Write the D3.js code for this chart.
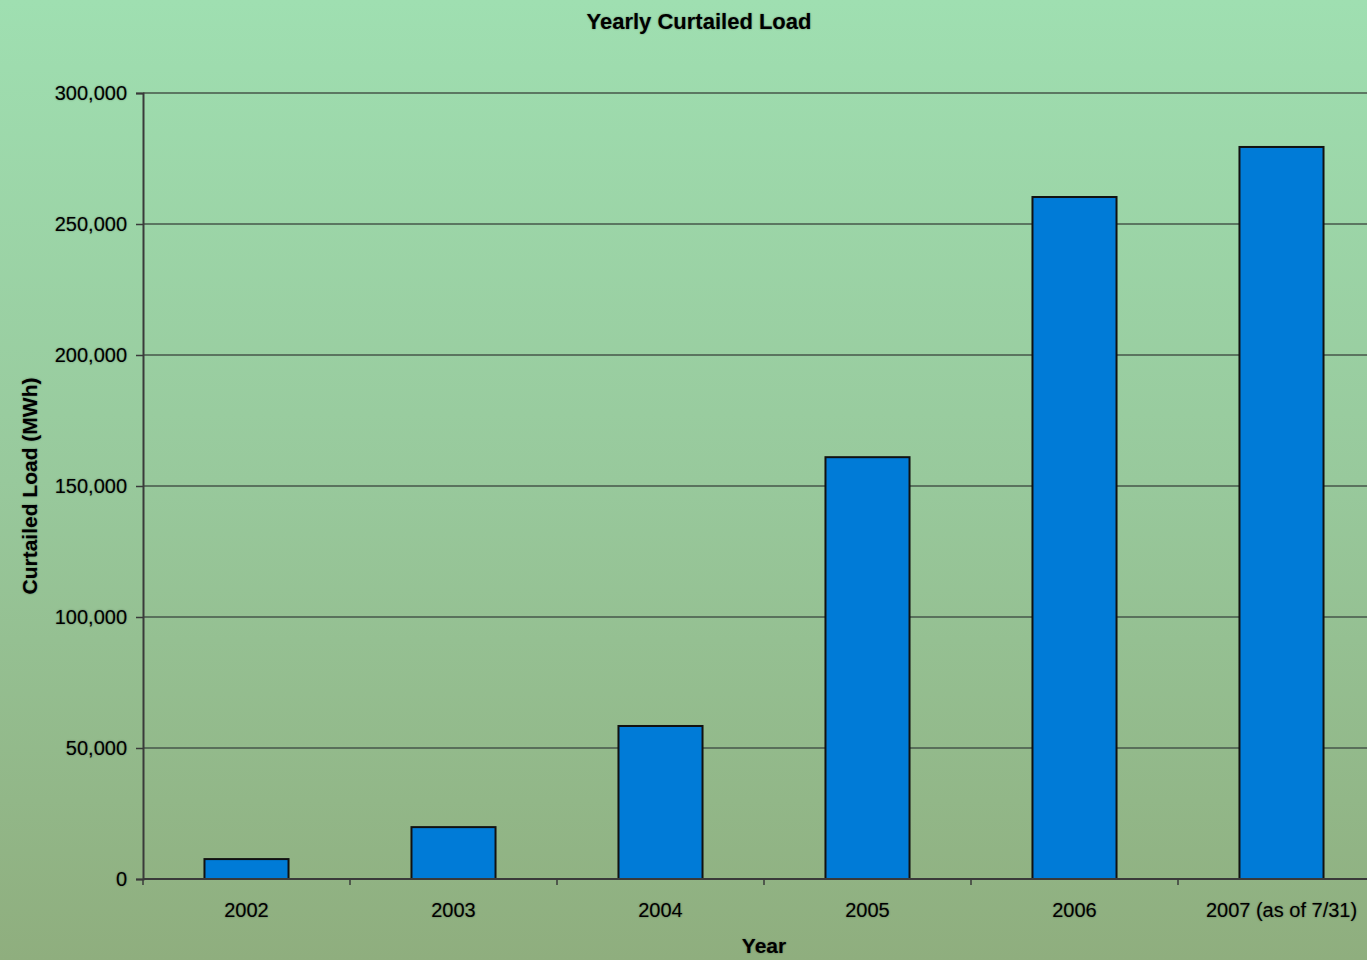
<!DOCTYPE html>
<html>
<head>
<meta charset="utf-8">
<script src="https://cdn.jsdelivr.net/npm/d3@7"></script>
<style>
  html, body { margin: 0; padding: 0; overflow: hidden; }
  text { font-family: "Liberation Sans", Arial, sans-serif; fill: #000; text-shadow: 0 0 2px rgba(0,0,0,0.4); }
</style>
</head>
<body>
<div id="chart"></div>
<script>
const years = ['2002', '2003', '2004', '2005', '2006', '2007 (as of 7/31)'];
const curtailedLoad = [7600, 19800, 58400, 161000, 260300, 279400];
const yTicks = [0, 50000, 100000, 150000, 200000, 250000, 300000];

const width = 1367, height = 960;
const margin = { top: 93, right: -18, bottom: 81, left: 143 };

const svg = d3.select('#chart')
  .append('svg')
  .attr('width', width)
  .attr('height', height);

const defs = svg.append('defs');
const bg = defs.append('linearGradient')
  .attr('id', 'bg')
  .attr('x1', 0).attr('y1', 0).attr('x2', 0).attr('y2', 1);
bg.append('stop').attr('offset', '0%').attr('stop-color', '#9fdfb1');
bg.append('stop').attr('offset', '50%').attr('stop-color', '#98c99c');
bg.append('stop').attr('offset', '100%').attr('stop-color', '#8fae7e');

svg.append('rect')
  .attr('width', width)
  .attr('height', height)
  .attr('fill', 'url(#bg)');

const x = d3.scaleBand()
  .domain(years)
  .range([margin.left, width - margin.right])
  .paddingInner(0.594)
  .paddingOuter(0.297);

const y = d3.scaleLinear()
  .domain([0, 300000])
  .range([height - margin.bottom, margin.top]);

// gridlines
svg.append('g')
  .selectAll('line')
  .data(yTicks.slice(1))
  .enter()
  .append('line')
  .attr('x1', margin.left)
  .attr('x2', width - margin.right)
  .attr('y1', d => y(d))
  .attr('y2', d => y(d))
  .attr('stroke', '#46564a')
  .attr('stroke-width', 1.5);

// bars
svg.append('g')
  .selectAll('rect')
  .data(curtailedLoad)
  .enter()
  .append('rect')
  .attr('x', (d, i) => x(years[i]))
  .attr('y', d => y(d))
  .attr('width', x.bandwidth())
  .attr('height', d => y(0) - y(d))
  .attr('fill', '#007bd7')
  .attr('stroke', '#111')
  .attr('stroke-width', 2);

// y axis
const yAxis = svg.append('g')
  .attr('transform', `translate(${margin.left},0)`)
  .call(d3.axisLeft(y).tickValues(yTicks).tickSize(7).tickPadding(9)
    .tickFormat(d3.format(',')));
yAxis.selectAll('text').style('font-size', '20px');

// x axis with ticks between categories
const xAxisY = y(0);
const xg = svg.append('g');
xg.append('line')
  .attr('x1', margin.left)
  .attr('x2', width - margin.right)
  .attr('y1', xAxisY)
  .attr('y2', xAxisY)
  .attr('stroke', '#3a3a3a')
  .attr('stroke-width', 2);
xg.selectAll('.sep')
  .data(d3.range(years.length + 1))
  .enter()
  .append('line')
  .attr('class', 'sep')
  .attr('x1', i => margin.left + i * x.step())
  .attr('x2', i => margin.left + i * x.step())
  .attr('y1', xAxisY)
  .attr('y2', xAxisY + 6)
  .attr('stroke', '#3a3a3a')
  .attr('stroke-width', 1.5);
xg.selectAll('.lbl')
  .data(years)
  .enter()
  .append('text')
  .attr('class', 'lbl')
  .attr('x', d => x(d) + x.bandwidth() / 2)
  .attr('y', xAxisY + 38)
  .attr('text-anchor', 'middle')
  .style('font-size', '20px')
  .text(d => d);

yAxis.select('.domain').attr('stroke', '#3a3a3a').attr('stroke-width', 2);
yAxis.selectAll('.tick line').attr('stroke', '#3a3a3a').attr('stroke-width', 1.5);

// titles
svg.append('text')
  .attr('x', 699)
  .attr('y', 29)
  .attr('text-anchor', 'middle')
  .style('font-size', '22px')
  .style('font-weight', 'bold')
  .text('Yearly Curtailed Load');

svg.append('text')
  .attr('x', 764)
  .attr('y', 953)
  .attr('text-anchor', 'middle')
  .style('font-size', '21px')
  .style('font-weight', 'bold')
  .text('Year');

svg.append('text')
  .attr('transform', 'translate(37,486) rotate(-90)')
  .attr('text-anchor', 'middle')
  .style('font-size', '21px')
  .style('font-weight', 'bold')
  .text('Curtailed Load (MWh)');
</script>
</body>
</html>
